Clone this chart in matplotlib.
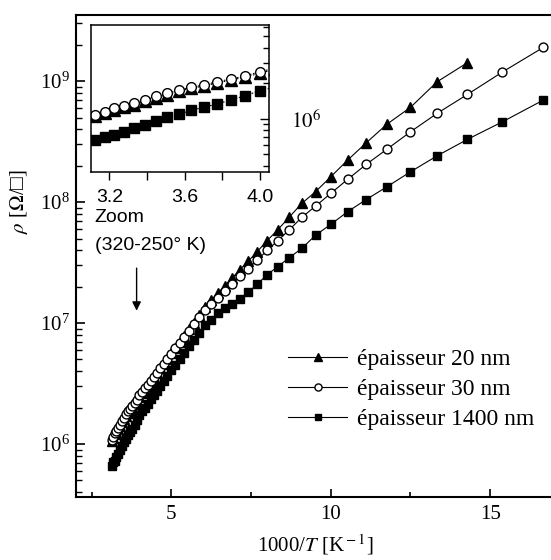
"""Sheet resistance vs inverse temperature for three film thicknesses, with zoomed inset."""
import matplotlib
matplotlib.use("Agg")
import matplotlib.pyplot as plt
from matplotlib.ticker import FixedLocator, NullFormatter, LogLocator
import numpy as np

# measurement temperatures (K), 5 K steps
T_K = [320, 315, 310, 305, 300, 295, 290, 285, 280, 275, 270, 265, 260, 255, 250,
       245, 240, 235, 230, 225, 220, 215, 210, 205, 200, 195, 190, 185, 180, 175,
       170, 165, 160, 155, 150, 145, 140, 135, 130, 125, 120, 115, 110, 105, 100,
       95, 90, 85, 80, 75, 70, 65, 60]

# resistivity in MOhm/sq
rho_20 = [1.05, 1.12, 1.20, 1.26, 1.32, 1.41, 1.51, 1.61, 1.72, 1.82, 1.90, 2.02, 2.14, 2.26, 2.45,
          2.63, 2.82, 3.02, 3.27, 3.55, 3.85, 4.22, 4.62, 5.07, 5.62, 6.24, 7.00, 7.85, 8.91, 10.1,
          11.6, 13.6, 15.5, 17.6, 20.2, 23.4, 27.5, 32.4, 38.9, 47.9, 58.9, 75.0, 97.5, 122, 162,
          222, 309, 441, 607, 987, 1420]
rho_30 = [1.08, 1.15, 1.23, 1.29, 1.36, 1.45, 1.55, 1.65, 1.76, 1.86, 1.94, 2.07, 2.18, 2.31, 2.52,
          2.69, 2.88, 3.09, 3.31, 3.59, 3.89, 4.22, 4.62, 5.07, 5.56, 6.17, 6.84, 7.67, 8.61, 9.77,
          11.2, 12.9, 14.5, 16.2, 18.4, 20.9, 24.3, 28.2, 33.1, 39.8, 47.9, 58.9, 74.8, 92.7, 118,
          154, 205, 274, 381, 541, 776, 1190, 1900]
rho_1400 = [0.664, 0.708, 0.731, 0.780, 0.834, 0.890, 0.962, 1.03, 1.10, 1.18, 1.26, 1.34, 1.45, 1.57, 1.74,
            1.86, 2.00, 2.16, 2.34, 2.54, 2.75, 3.02, 3.31, 3.63, 4.07, 4.52, 5.01, 5.62, 6.46, 7.24,
            8.32, 9.55, 10.7, 12.0, 13.2, 14.5, 15.8, 18.0, 20.9, 25.1, 29.2, 34.7, 41.4, 53.3, 65.4,
            83.2, 105, 134, 178, 241, 330, 461, 697]

labels = ["épaisseur 20 nm", "épaisseur 30 nm", "épaisseur 1400 nm"]

plt.rcParams["font.family"] = ["Liberation Serif", "DejaVu Serif"]
plt.rcParams["mathtext.fontset"] = "stix"

inv_T = 1000.0 / np.array(T_K, dtype=float)
series = [(rho_20, "^", "black", 7.6), (rho_30, "o", "white", 6.4), (rho_1400, "s", "black", 6.2)]

fig = plt.figure(figsize=(5.51, 5.60), dpi=100)
ax = fig.add_axes([0.1374, 0.1125, 0.868, 0.861])

for (rho, mk, fc, ms), lab in zip(series, labels):
    y = np.array(rho) * 1e6
    ax.plot(inv_T[:len(y)], y, color="black", lw=0.8, marker=mk, ms=ms,
            mfc=fc, mec="black", mew=1.0, label=lab)

ax.set_yscale("log")
ax.set_xlim(2, 17)
ax.set_ylim(3.65e5, 3.53e9)
ax.xaxis.set_major_locator(FixedLocator([5, 10, 15]))
ax.xaxis.set_minor_locator(FixedLocator([2.5, 7.5, 12.5]))
ax.yaxis.set_major_locator(LogLocator(base=10, numticks=10))
ax.yaxis.set_minor_locator(LogLocator(base=10, subs=np.arange(2, 10), numticks=10))
ax.yaxis.set_minor_formatter(NullFormatter())
ax.tick_params(axis="both", which="both", direction="in", top=False, right=False, labelsize=15)
ax.tick_params(axis="x", which="major", length=6, width=1.2, pad=6)
ax.tick_params(axis="x", which="minor", length=3.6, width=1.2)
ax.tick_params(axis="y", which="major", length=6.5, width=1.2, pad=4)
ax.tick_params(axis="y", which="minor", length=4.2, width=1.0)
for s in ("left", "bottom", "top"):
    ax.spines[s].set_linewidth(1.5)
ax.spines["right"].set_visible(False)

ax.set_xlabel(r"1000/$T$ [K$^{\rm -1}$]", fontsize=15, labelpad=6)
ax.set_ylabel(r"$\rho$ [$\Omega$/□]", fontsize=15)
ax.yaxis.set_label_coords(-0.096, 0.612)

leg = ax.legend(loc="upper left", bbox_to_anchor=(0.425, 0.327), frameon=False, fontsize=17,
                handlelength=2.5, handletextpad=0.42, labelspacing=0.36, markerscale=0.8,
                borderaxespad=0)

ax.text(2.6, 7.4e7, "Zoom", family="Liberation Sans", fontsize=14, va="center", ha="left")
ax.text(2.6, 4.4e7, "(320-250° K)", family="Liberation Sans", fontsize=14, va="center", ha="left")
ax.annotate("", xy=(3.91, 1.2e7), xytext=(3.91, 3.0e7),
            arrowprops=dict(arrowstyle="-|>", color="black", lw=1.0, mutation_scale=13))

# inset: zoom on the high-temperature part
axi = fig.add_axes([0.1652, 0.6934, 0.323, 0.262])
for (rho, mk, fc, ms), lab in zip(series, labels):
    y = np.array(rho) * 1e6
    axi.plot(inv_T[:len(y)], y, color="black", lw=0.8, ls=(0, (1.5, 1.5)), marker=mk,
             ms=ms + 0.6, mfc=fc, mec="black", mew=1.0)
axi.set_yscale("log")
axi.set_xlim(3.103, 4.048)
axi.set_ylim(3.57e5, 6.26e6)
axi.xaxis.set_major_locator(FixedLocator([3.2, 3.6, 4.0]))
axi.xaxis.set_minor_locator(FixedLocator([3.4, 3.8]))
axi.set_xticklabels(["3.2", "3.6", "4.0"], family="Liberation Sans", fontsize=14)
axi.tick_params(axis="x", which="both", direction="out", length=5.5, width=1.0, pad=7)
axi.yaxis.set_label_position("right")
axi.yaxis.tick_right()
axi.yaxis.set_major_locator(FixedLocator([1e6]))
axi.yaxis.set_minor_locator(LogLocator(base=10, subs=np.arange(2, 10), numticks=10))
axi.yaxis.set_minor_formatter(NullFormatter())
axi.set_yticklabels([r"$10^6$"], fontsize=15)
axi.tick_params(axis="y", which="major", direction="in", length=6.5, width=1.0, pad=16)
axi.tick_params(axis="y", which="minor", direction="in", length=4.2, width=1.0)
for s in axi.spines.values():
    s.set_linewidth(1.1)

fig.savefig("out.png", dpi=100)
